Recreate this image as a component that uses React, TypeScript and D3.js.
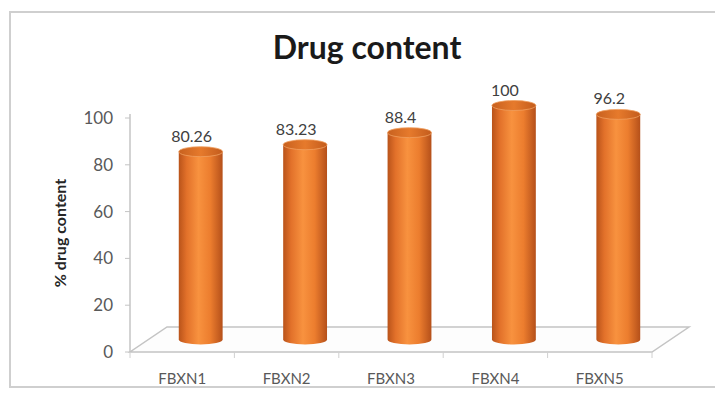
import React from 'react';
import * as d3 from 'd3';

const categories = ['FBXN1', 'FBXN2', 'FBXN3', 'FBXN4', 'FBXN5'];
const drugContent = [80.26, 83.23, 88.4, 100, 96.2];
const valueLabels = ['80.26', '83.23', '88.4', '100', '96.2'];
const yTicks = [0, 20, 40, 60, 80, 100];

const W = 715;
const H = 394;
// floor depth offset (3d look)
const DX = 37;
const DY = -25;

const App = () => {
  const x = d3.scaleBand<string>()
    .domain(categories)
    .range([130, 652])
    .paddingInner(0)
    .paddingOuter(0);

  const y = d3.scaleLinear().domain([0, 100]).range([352, 118]);

  const bw = x.bandwidth() * 0.42;
  const rx = bw / 2;
  const ry = 5;
  const font = "Lato, 'Open Sans', 'DejaVu Sans', sans-serif";

  const x0 = x.range()[0];
  const x1 = x.range()[1];
  const yFloor = y(0);

  return (
    <svg width={W} height={H} style={{ position: 'absolute', left: 0, top: 0, background: '#fff' }}>
      <defs>
        <linearGradient id="cyl" x1="0" x2="1" y1="0" y2="0">
          <stop offset="0%" stopColor="#b9531a" />
          <stop offset="18%" stopColor="#e2712a" />
          <stop offset="45%" stopColor="#f8923f" />
          <stop offset="72%" stopColor="#ec7d2e" />
          <stop offset="100%" stopColor="#b5501a" />
        </linearGradient>
        <linearGradient id="cap" x1="0" x2="1" y1="0" y2="0">
          <stop offset="0%" stopColor="#c8611f" />
          <stop offset="50%" stopColor="#e67a2c" />
          <stop offset="100%" stopColor="#c35c1d" />
        </linearGradient>
      </defs>

      <rect x={10} y={12} width={720} height={375} fill="#fff" stroke="#cfcfcf" strokeWidth={2} />

      <text x={367} y={59} textAnchor="middle" fontFamily={font} fontWeight="bold" fontSize={32} fill="#1a1a1a">
        Drug content
      </text>

      {/* floor */}
      <path
        d={`M${x0},${yFloor} L${x1},${yFloor} L${x1 + DX},${yFloor + DY} L${x0 + DX},${yFloor + DY} Z`}
        fill="#fdfdfd"
        stroke="#c4c4c4"
        strokeWidth={1.5}
      />
      {/* vertical axis */}
      <line x1={x0} x2={x0} y1={y(100) - 4} y2={yFloor} stroke="#c4c4c4" strokeWidth={1.5} />
      {yTicks.map(t => (
        <g key={t}>
          <line x1={x0 - 5} x2={x0} y1={y(t)} y2={y(t)} stroke="#c4c4c4" />
          <text x={113} y={y(t)} dy="0.35em" textAnchor="end" fontFamily={font} fontSize={17} fill="#595959">
            {t}
          </text>
        </g>
      ))}
      {categories.map(c => (
        <line key={c} x1={x(c)!} x2={x(c)!} y1={yFloor} y2={yFloor + 6} stroke="#d0d0d0" />
      ))}
      <line x1={x1} x2={x1} y1={yFloor} y2={yFloor + 6} stroke="#d0d0d0" />

      <text
        transform={`translate(66,233) rotate(-90)`}
        textAnchor="middle"
        fontFamily={font}
        fontWeight="bold"
        fontSize={16}
        fill="#262626"
      >
        % drug content
      </text>

      {/* cylinders */}
      {categories.map((c, i) => {
        const cx = x(c)! + x.bandwidth() / 2 + DX / 2;
        const yb = y(0) + DY / 2;
        const yt = y(drugContent[i]) + DY / 2;
        return (
          <g key={c}>
            <path
              d={`M${cx - rx},${yt} L${cx - rx},${yb} A${rx},${ry} 0 0 0 ${cx + rx},${yb} L${cx + rx},${yt} Z`}
              fill="url(#cyl)"
            />
            <ellipse cx={cx} cy={yt} rx={rx} ry={ry} fill="url(#cap)" stroke="#f0a060" strokeWidth={0.8} />
            <text x={cx - 9} y={yt - 10} textAnchor="middle" fontFamily={font} fontSize={16} fill="#404040">
              {valueLabels[i]}
            </text>
          </g>
        );
      })}

      {categories.map(c => (
        <text
          key={c}
          x={x(c)! + x.bandwidth() / 2}
          y={379}
          dy="0.35em"
          textAnchor="middle"
          fontFamily={font}
          fontSize={15}
          fill="#595959"
        >
          {c}
        </text>
      ))}
    </svg>
  );
};

export default App;
